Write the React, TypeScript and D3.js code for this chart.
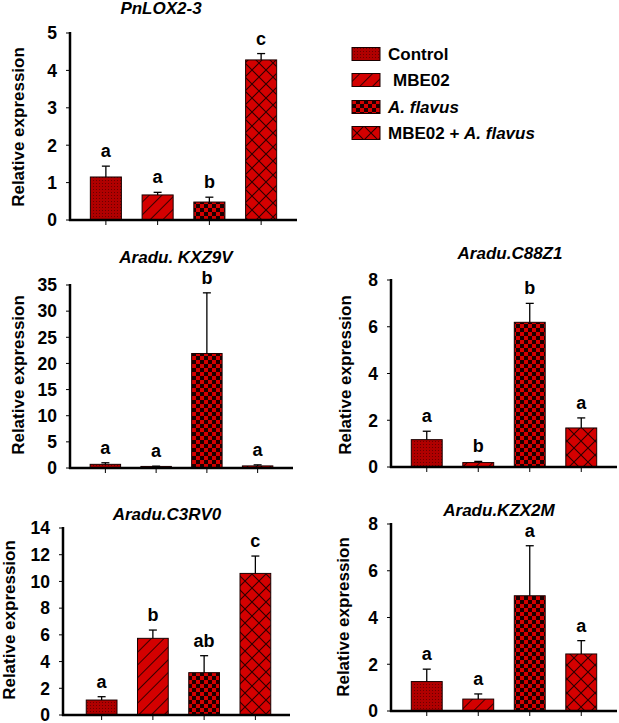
import React from "react";
import * as d3 from "d3";

const treatments = ["Control", "MBE02", "A. flavus", "MBE02 + A. flavus"];
const patternIds = ["pControl", "pMbe", "pFlavus", "pCombo"];

const genes = ["PnLOX2-3", "Aradu. KXZ9V", "Aradu.C88Z1", "Aradu.C3RV0", "Aradu.KZX2M"];
const means = [
  [1.15, 0.67, 0.48, 4.28],
  [0.7, 0.3, 21.9, 0.4],
  [1.17, 0.19, 6.19, 1.67],
  [1.12, 5.74, 3.17, 10.6],
  [1.26, 0.51, 4.93, 2.44],
];
const errors = [
  [0.29, 0.07, 0.13, 0.17],
  [0.3, 0.05, 11.6, 0.2],
  [0.36, 0.05, 0.81, 0.43],
  [0.25, 0.62, 1.27, 1.3],
  [0.53, 0.22, 2.14, 0.57],
];
const letters = [
  ["a", "a", "b", "c"],
  ["a", "a", "b", "a"],
  ["a", "b", "b", "a"],
  ["a", "b", "ab", "c"],
  ["a", "a", "a", "a"],
];
const yMax = [5, 35, 8, 14, 8];
const yStep = [1, 5, 2, 2, 2];

// layout of each panel (pixels)
const layouts = [
  { ax: 70, y0: 220, yTop: 33, xEnd: 297, bx0: 80, bx1: 287, tx: 161, ty: 14, lx: 18, ly: 127 },
  { ax: 70, y0: 468, yTop: 285, xEnd: 293, bx0: 80, bx1: 283, tx: 176, ty: 263, lx: 18, ly: 375 },
  { ax: 391, y0: 467, yTop: 280, xEnd: 617, bx0: 401, bx1: 607, tx: 510, ty: 259, lx: 345, ly: 375 },
  { ax: 63, y0: 715, yTop: 528, xEnd: 290, bx0: 76, bx1: 281, tx: 167, ty: 520, lx: 9, ly: 620 },
  { ax: 391, y0: 711, yTop: 524, xEnd: 617, bx0: 401, bx1: 607, tx: 499, ty: 516, lx: 343, ly: 617 },
];

const FONT = "'Liberation Sans', Arial, sans-serif";

function Panel({ i }: { i: number }) {
  const L = layouts[i];
  const y = d3.scaleLinear().domain([0, yMax[i]]).range([L.y0, L.yTop]);
  const x = d3.scaleBand().domain(treatments).range([L.bx0, L.bx1]).paddingInner(0.4).paddingOuter(0.2);
  const ticks = d3.range(0, yMax[i] + yStep[i] / 2, yStep[i]);
  const bw = x.bandwidth();
  return (
    <g>
      <text x={L.tx} y={L.ty} textAnchor="middle" fontFamily={FONT} fontWeight="bold" fontStyle="italic" fontSize={17}>
        {genes[i]}
      </text>
      <text
        transform={`translate(${L.lx},${L.ly}) rotate(-90)`}
        textAnchor="middle"
        dominantBaseline="central"
        fontFamily={FONT}
        fontWeight="bold"
        fontSize={17}
      >
        Relative expression
      </text>
      {treatments.map((t, j) => {
        const x0 = x(t)!;
        const cx = x0 + bw / 2;
        const v = means[i][j];
        const e = errors[i][j];
        return (
          <g key={t}>
            <rect x={x0} y={y(v)} width={bw} height={L.y0 - y(v)} fill={`url(#${patternIds[j]})`} stroke="#1a0000" strokeWidth={1} />
            <line x1={cx} x2={cx} y1={y(v)} y2={y(v + e)} stroke="#000" strokeWidth={1.3} />
            <line x1={cx - 4} x2={cx + 4} y1={y(v + e)} y2={y(v + e)} stroke="#000" strokeWidth={1.3} />
            <text x={cx} y={y(v + e) - 9} textAnchor="middle" fontFamily={FONT} fontWeight="bold" fontSize={18}>
              {letters[i][j]}
            </text>
            <line x1={cx} x2={cx} y1={L.y0} y2={L.y0 + 5} stroke="#000" strokeWidth={1} />
          </g>
        );
      })}
      {ticks.map((tv) => (
        <g key={tv}>
          <line x1={L.ax - 4} x2={L.ax} y1={y(tv)} y2={y(tv)} stroke="#000" strokeWidth={1} />
          <text x={L.ax - 13} y={y(tv)} dy="0.36em" textAnchor="end" fontFamily={FONT} fontWeight="bold" fontSize={17.5}>
            {tv}
          </text>
        </g>
      ))}
      <line x1={L.ax} x2={L.ax} y1={L.yTop - 1} y2={L.y0 + 1} stroke="#000" strokeWidth={2.5} />
      <line x1={L.ax - 1} x2={L.xEnd} y1={L.y0} y2={L.y0} stroke="#000" strokeWidth={2.5} />
    </g>
  );
}

const legendY = [54, 80, 107, 133];

export default function App() {
  return (
    <svg width={619} height={723} style={{ position: "absolute", left: 0, top: 0, background: "#fff" }}>
      <defs>
        <pattern id="pControl" patternUnits="userSpaceOnUse" width={3} height={3}>
          <rect width={3} height={3} fill="#b00000" />
          <rect width={1} height={1} fill="#6a0000" />
        </pattern>
        <pattern id="pMbe" patternUnits="userSpaceOnUse" width={9} height={9} patternTransform="rotate(45)">
          <rect width={9} height={9} fill="#d40000" />
          <line x1={0} x2={0} y1={0} y2={9} stroke="#3a0000" strokeWidth={2} />
        </pattern>
        <pattern id="pFlavus" patternUnits="userSpaceOnUse" width={8} height={8}>
          <rect width={8} height={8} fill="#d40000" />
          <rect width={4} height={4} fill="#1a0000" />
          <rect x={4} y={4} width={4} height={4} fill="#1a0000" />
        </pattern>
        <pattern id="pCombo" patternUnits="userSpaceOnUse" width={14} height={14}>
          <rect width={14} height={14} fill="#d40000" />
          <path d="M0,0L14,14M14,0L0,14" stroke="#2a0000" strokeWidth={1.1} />
        </pattern>
      </defs>
      <rect width={619} height={723} fill="#fff" />
      {genes.map((g, i) => (
        <Panel key={g} i={i} />
      ))}
      {treatments.map((t, j) => (
        <g key={t}>
          <rect x={352} y={legendY[j] - 6.5} width={28} height={13} fill={`url(#${patternIds[j]})`} stroke="#1a0000" strokeWidth={1} />
          <text x={j === 1 ? 393 : 388} y={legendY[j] + 6} fontFamily={FONT} fontWeight="bold" fontSize={17}>
            {j === 2 ? (
              <tspan fontStyle="italic">A. flavus</tspan>
            ) : j === 3 ? (
              <>
                <tspan>MBE02 + </tspan>
                <tspan fontStyle="italic">A. flavus</tspan>
              </>
            ) : (
              t
            )}
          </text>
        </g>
      ))}
    </svg>
  );
}
